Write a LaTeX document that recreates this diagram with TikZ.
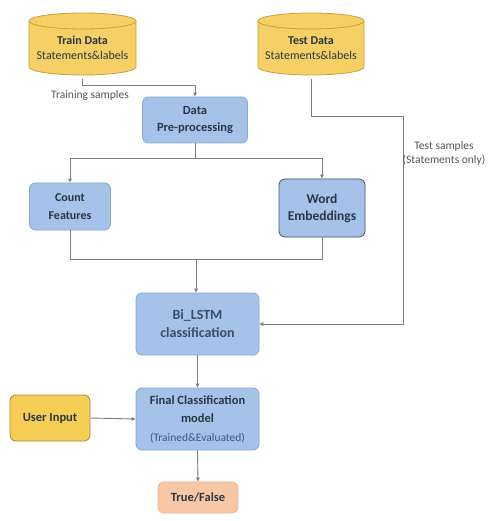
\documentclass[tikz,border=0pt]{standalone}
\usepackage{fontspec}
\setmainfont{Carlito}
\usetikzlibrary{arrows.meta}
\definecolor{cylfill}{HTML}{F6D064}
\definecolor{cyldraw}{HTML}{C7A23C}
\definecolor{bluefill}{HTML}{A5C3E8}
\definecolor{bluedraw}{HTML}{86A8D2}
\definecolor{yelfill}{HTML}{F6CD55}
\definecolor{yeldraw}{HTML}{A8863A}
\definecolor{peachfill}{HTML}{F8C8A6}
\definecolor{peachdraw}{HTML}{E8B896}
\definecolor{txt}{HTML}{2B3645}
\definecolor{txtb}{HTML}{3B4C66}
\definecolor{txtc}{HTML}{3D5682}
\definecolor{linec}{HTML}{7E7E7E}
\definecolor{labc}{HTML}{555555}
\newcommand{\myfs}[2]{\fontsize{#1}{#2}\selectfont}
\tikzset{
  box/.style={draw=bluedraw, fill=bluefill, rounded corners=6pt, line width=0.8pt,
    align=center, text=txt, inner sep=0pt},
  conn/.style={draw=linec, line width=0.9pt},
  arr/.style={conn, -{Triangle[length=4pt,width=3.5pt]}},
  lab/.style={font=\myfs{11.5}{14}, text=labc, align=center},
  cyl/.style={fill=cylfill, draw=cyldraw, line width=0.8pt},
}
\begin{document}
\begin{tikzpicture}[x=1pt,y=-1pt]
\useasboundingbox (0,0) rectangle (487,521);
\fill[white] (0,0) rectangle (487,521);
% Train cylinder
\path[cyl] (29,21) -- (29,67) arc[start angle=180,end angle=0,x radius=53.5,y radius=8] -- (136,21) -- cycle;
\path[cyl] (82.5,21) ellipse[x radius=53.5,y radius=8];
\node[minimum width=107pt, minimum height=62pt, inner sep=0pt, align=center, text=txt, font=\myfs{12}{15.5}] (train) at (82.5,48)
  {\bfseries Train Data\\\mdseries Statements\&labels};
% Test cylinder
\path[cyl] (258,21) -- (258,67) arc[start angle=180,end angle=0,x radius=53,y radius=8] -- (364,21) -- cycle;
\path[cyl] (311,21) ellipse[x radius=53,y radius=8];
\node[minimum width=106pt, minimum height=62pt, inner sep=0pt, align=center, text=txt, font=\myfs{12}{15.5}] (test) at (311,48)
  {\bfseries Test Data\\\mdseries Statements\&labels};
% Boxes
\node[box, font=\bfseries\myfs{12.5}{17.5}, minimum width=105pt, minimum height=46pt] (pre) at (195,120) {Data\\Pre-processing};
\node[box, font=\bfseries\myfs{12}{18.5}, minimum width=81pt, minimum height=47pt] (count) at (70,206.5) {Count\\Features};
\node[box, font=\bfseries\myfs{13.5}{17}, draw=txt!85, minimum width=86pt, minimum height=58pt] (word) at (322,208) {Word\\Embeddings};
\node[box, font=\bfseries\myfs{14}{18}, text=txtb, minimum width=123pt, minimum height=62pt] (bilstm) at (197.5,324) {Bi\_LSTM\\classification};
\node[box, font=\bfseries\myfs{12.5}{18.5}, minimum width=123pt, minimum height=62pt] (final) at (197.5,419)
  {Final Classification\\model\\{\mdseries\myfs{11.5}{14}\color{txtc}(Trained\&Evaluated)}};
\node[box, font=\bfseries\myfs{12.5}{15}, fill=yelfill, draw=yeldraw, minimum width=80pt, minimum height=46pt] (user) at (50,418) {User Input};
\node[box, font=\bfseries\myfs{12.5}{15}, fill=peachfill, draw=peachdraw, minimum width=80pt, minimum height=31pt] (tf) at (198,497.5) {True/False};
% coordinates
\coordinate (j1) at (195,158);
\coordinate (j2) at (196,259);
% connectors
\draw[arr] (train.south) |- (195,85) -- (pre.north);
\draw[conn] (pre.south) -- (j1);
\draw[arr] (j1) -| (count.north);
\draw[arr] (j1) -| (word.north);
\draw[conn] (count.south) |- (j2);
\draw[conn] (word.south) |- (j2);
\draw[arr] (j2) -- (j2 |- bilstm.north);
\draw[arr] (test.south) |- (403,116) |- (bilstm.east);
\draw[arr] (bilstm.south) -- (final.north);
\draw[arr] (user.east) -- (final.west);
\draw[arr] (final.south) -- (tf.north);
% labels
\node[lab] (trlab) at (90,95) {Training samples};
\node[lab] (telab) at (444,153) {Test samples\\(Statements only)};
\end{tikzpicture}
\end{document}
